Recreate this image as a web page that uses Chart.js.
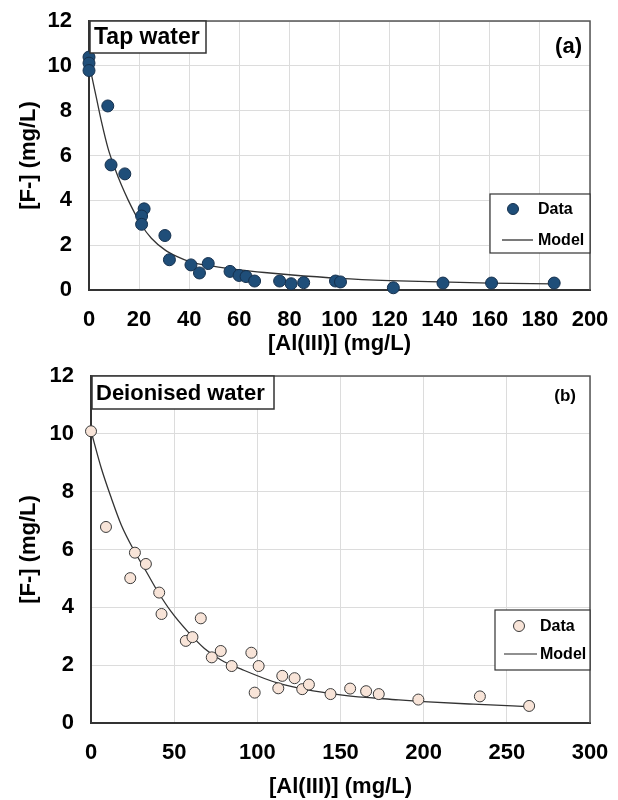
<!DOCTYPE html>
<html>
<head>
<meta charset="utf-8">
<script src="https://cdn.jsdelivr.net/npm/chart.js@4.4.0/dist/chart.umd.min.js"></script>
<style>
  body { margin: 0; background: #fff; }
  #wrap { position: relative; width: 618px; height: 800px; }
  #tapChart { position: absolute; left: 0; top: 0; }
  #diChart { position: absolute; left: 0; top: 360px; }
</style>
</head>
<body>
<div id="wrap">
  <canvas id="tapChart" width="618" height="360"></canvas>
  <canvas id="diChart" width="618" height="440"></canvas>
</div>
<script>
// (a) tap water - measured fluoride vs aluminium dose
const tapAl = [0, 0, 0, 7.5, 8.8, 14.3, 22, 21, 21, 30.3, 32.1, 40.7, 44.1, 47.6, 56.3, 59.9, 62.7, 66.1, 76.1, 80.7, 85.7, 98.4, 100.4, 121.5, 141.3, 160.7, 185.7];
const tapF = [10.39, 10.12, 9.79, 8.21, 5.58, 5.18, 3.62, 3.30, 2.93, 2.43, 1.35, 1.12, 0.76, 1.18, 0.83, 0.65, 0.60, 0.40, 0.40, 0.28, 0.33, 0.40, 0.36, 0.10, 0.31, 0.31, 0.31];
// (a) model curve
const tapModelAl = [0, 1, 3, 5, 7.6, 10.3, 12.9, 15.6, 18.3, 20.9, 24.9, 30.3, 35, 40.4, 50, 60, 70, 80, 100, 120, 140, 160, 185];
const tapModelF = [10.15, 9.6, 8.55, 7.5, 6.32, 5.43, 4.69, 4.02, 3.42, 2.9, 2.31, 1.79, 1.5, 1.26, 1.05, 0.9, 0.78, 0.68, 0.52, 0.42, 0.36, 0.31, 0.27];

// (b) deionised water - measured
const diAl = [0, 9, 26.4, 23.6, 33, 41, 42.4, 66, 57, 61, 72.6, 78, 84.6, 96.4, 100.8, 98.4, 112.6, 115, 122.4, 127, 131, 144, 155.8, 165.4, 173, 196.8, 233.8, 263.4];
const diF = [10.09, 6.78, 5.89, 5.01, 5.50, 4.51, 3.77, 3.62, 2.84, 2.97, 2.27, 2.49, 1.97, 2.43, 1.97, 1.05, 1.20, 1.63, 1.55, 1.17, 1.33, 1.00, 1.19, 1.10, 1.00, 0.81, 0.92, 0.59];
// (b) model curve
const diModelAl = [0, 6.2, 12.2, 18.2, 26.2, 33.2, 40.2, 48.2, 58.2, 68.2, 78.2, 90, 113, 150, 185, 200, 230, 265];
const diModelF = [10.1, 8.81, 7.78, 6.85, 5.93, 5.24, 4.54, 3.85, 3.16, 2.58, 2.18, 1.87, 1.37, 0.97, 0.80, 0.74, 0.65, 0.56];

// axis ticks
const fTicks = [0, 2, 4, 6, 8, 10, 12];
const tapAlMax = 200, tapAlStep = 20;
const diAlMax = 300, diAlStep = 50;

const FONT = "'Liberation Sans', Arial, sans-serif";

function toPoints(xs, ys) {
  return xs.map((x, i) => ({ x: x, y: ys[i] }));
}

// frame, sample label, panel letter and legend drawn on top of the plot
function panelPlugin(cfg) {
  return {
    id: "panel",
    afterDatasetsDraw(chart) {
      const ctx = chart.ctx;
      const a = chart.chartArea;
      ctx.save();

      // top and right edges of the plot frame
      ctx.strokeStyle = "#555";
      ctx.lineWidth = 1.5;
      ctx.beginPath();
      ctx.moveTo(a.left, a.top);
      ctx.lineTo(a.right, a.top);
      ctx.lineTo(a.right, a.bottom);
      ctx.stroke();

      // sample label box
      ctx.fillStyle = "#fff";
      ctx.fillRect(a.left + 1, a.top, cfg.boxW, cfg.boxH);
      ctx.strokeStyle = "#333";
      ctx.lineWidth = 1.5;
      ctx.strokeRect(a.left + 1, a.top, cfg.boxW, cfg.boxH);
      ctx.fillStyle = "#000";
      ctx.font = "bold " + cfg.boxFont + "px " + FONT;
      ctx.textBaseline = "middle";
      ctx.textAlign = "left";
      ctx.fillText(cfg.label, a.left + 5, a.top + cfg.boxH / 2 + 1);

      // panel letter
      ctx.font = "bold " + cfg.tagFont + "px " + FONT;
      ctx.textAlign = "right";
      ctx.fillText(cfg.tag, a.right - cfg.tagDx, a.top + cfg.tagDy);

      // legend
      const lg = cfg.legend;
      const lx = a.right - lg.w;
      const ly = a.bottom - lg.dy;
      ctx.fillStyle = "#fff";
      ctx.fillRect(lx, ly, lg.w, lg.h);
      ctx.strokeStyle = "#333";
      ctx.lineWidth = 1.2;
      ctx.strokeRect(lx, ly, lg.w, lg.h);

      const dataSet = chart.data.datasets[0];
      ctx.beginPath();
      ctx.arc(lx + lg.dotX, ly + lg.row1, 5.5, 0, Math.PI * 2);
      ctx.fillStyle = dataSet.pointBackgroundColor;
      ctx.fill();
      ctx.lineWidth = 1;
      ctx.strokeStyle = dataSet.pointBorderColor;
      ctx.stroke();

      ctx.beginPath();
      ctx.moveTo(lx + lg.lineX0, ly + lg.row2);
      ctx.lineTo(lx + lg.lineX1, ly + lg.row2);
      ctx.strokeStyle = "#222";
      ctx.lineWidth = 1.2;
      ctx.stroke();

      ctx.fillStyle = "#000";
      ctx.font = "bold 16px " + FONT;
      ctx.textAlign = "left";
      ctx.fillText("Data", lx + lg.textX, ly + lg.row1 + 1);
      ctx.fillText("Model", lx + lg.textX, ly + lg.row2 + 1);

      ctx.restore();
    }
  };
}

function makeChart(id, opt) {
  const ctx = document.getElementById(id).getContext("2d");
  // tick gap comes from an invisible tick mark so the label overflow stays small
  const gridOpts = { color: "#dcdcdc", lineWidth: 1, drawTicks: true, tickLength: 17, tickColor: "rgba(0,0,0,0)" };
  return new Chart(ctx, {
    type: "scatter",
    data: {
      datasets: [
        {
          label: "Data",
          data: toPoints(opt.xs, opt.ys),
          pointRadius: opt.radius,
          pointBackgroundColor: opt.fill,
          pointBorderColor: opt.stroke,
          pointBorderWidth: 1,
          showLine: false,
          clip: false
        },
        {
          label: "Model",
          data: toPoints(opt.mx, opt.my),
          showLine: true,
          pointRadius: 0,
          borderColor: "#333",
          borderWidth: 1.3,
          cubicInterpolationMode: "monotone",
          fill: false
        }
      ]
    },
    options: {
      responsive: false,
      animation: false,
      layout: { padding: { top: opt.padTop, right: 28, bottom: 0, left: 0 } },
      plugins: {
        legend: { display: false },
        tooltip: { enabled: false }
      },
      scales: {
        x: {
          type: "linear",
          min: 0,
          max: opt.xMax,
          ticks: {
            stepSize: opt.xStep,
            color: "#000",
            padding: 0,
            font: { family: FONT, size: 22, weight: "bold" }
          },
          grid: gridOpts,
          border: { color: "#333", width: 2 },
          title: {
            display: true,
            text: "[Al(III)] (mg/L)",
            color: "#000",
            font: { family: FONT, size: 22, weight: "bold" },
            padding: { top: 0, bottom: opt.titlePad }
          },
          afterFit(s) { s.height = opt.xHeight; }
        },
        y: {
          type: "linear",
          min: 0,
          max: 12,
          afterBuildTicks(s) { s.ticks = fTicks.map(v => ({ value: v })); },
          ticks: {
            color: "#000",
            padding: 0,
            font: { family: FONT, size: 22, weight: "bold" }
          },
          grid: gridOpts,
          border: { color: "#333", width: 2 },
          title: {
            display: true,
            text: "[F-] (mg/L)",
            color: "#000",
            font: { family: FONT, size: 22, weight: "bold" },
            padding: { top: 16, bottom: 0 }
          },
          afterFit(s) { s.width = opt.yWidth; }
        }
      }
    },
    plugins: [panelPlugin(opt.panel)]
  });
}

// TOP PANEL
makeChart("tapChart", {
  xs: tapAl, ys: tapF, mx: tapModelAl, my: tapModelF,
  radius: 6, fill: "#1f4e79", stroke: "#15304d",
  xMax: tapAlMax, xStep: tapAlStep,
  padTop: 21, xHeight: 70, titlePad: 3, yWidth: 89,
  panel: {
    label: "Tap water", boxW: 116, boxH: 32, boxFont: 23,
    tag: "(a)", tagFont: 22, tagDx: 8, tagDy: 26,
    legend: { w: 100, h: 59, dy: 96, dotX: 23, row1: 15, row2: 46, lineX0: 12, lineX1: 43, textX: 48 }
  }
});

// BOTTOM PANEL
makeChart("diChart", {
  xs: diAl, ys: diF, mx: diModelAl, my: diModelF,
  radius: 5.5, fill: "#f8e4d8", stroke: "#3a3a3a",
  xMax: diAlMax, xStep: diAlStep,
  padTop: 16, xHeight: 77, titlePad: 0, yWidth: 91,
  panel: {
    label: "Deionised water", boxW: 182, boxH: 33, boxFont: 22,
    tag: "(b)", tagFont: 17, tagDx: 14, tagDy: 20,
    legend: { w: 95, h: 60, dy: 113, dotX: 24, row1: 16, row2: 44, lineX0: 9, lineX1: 42, textX: 45 }
  }
});
</script>
</body>
</html>
